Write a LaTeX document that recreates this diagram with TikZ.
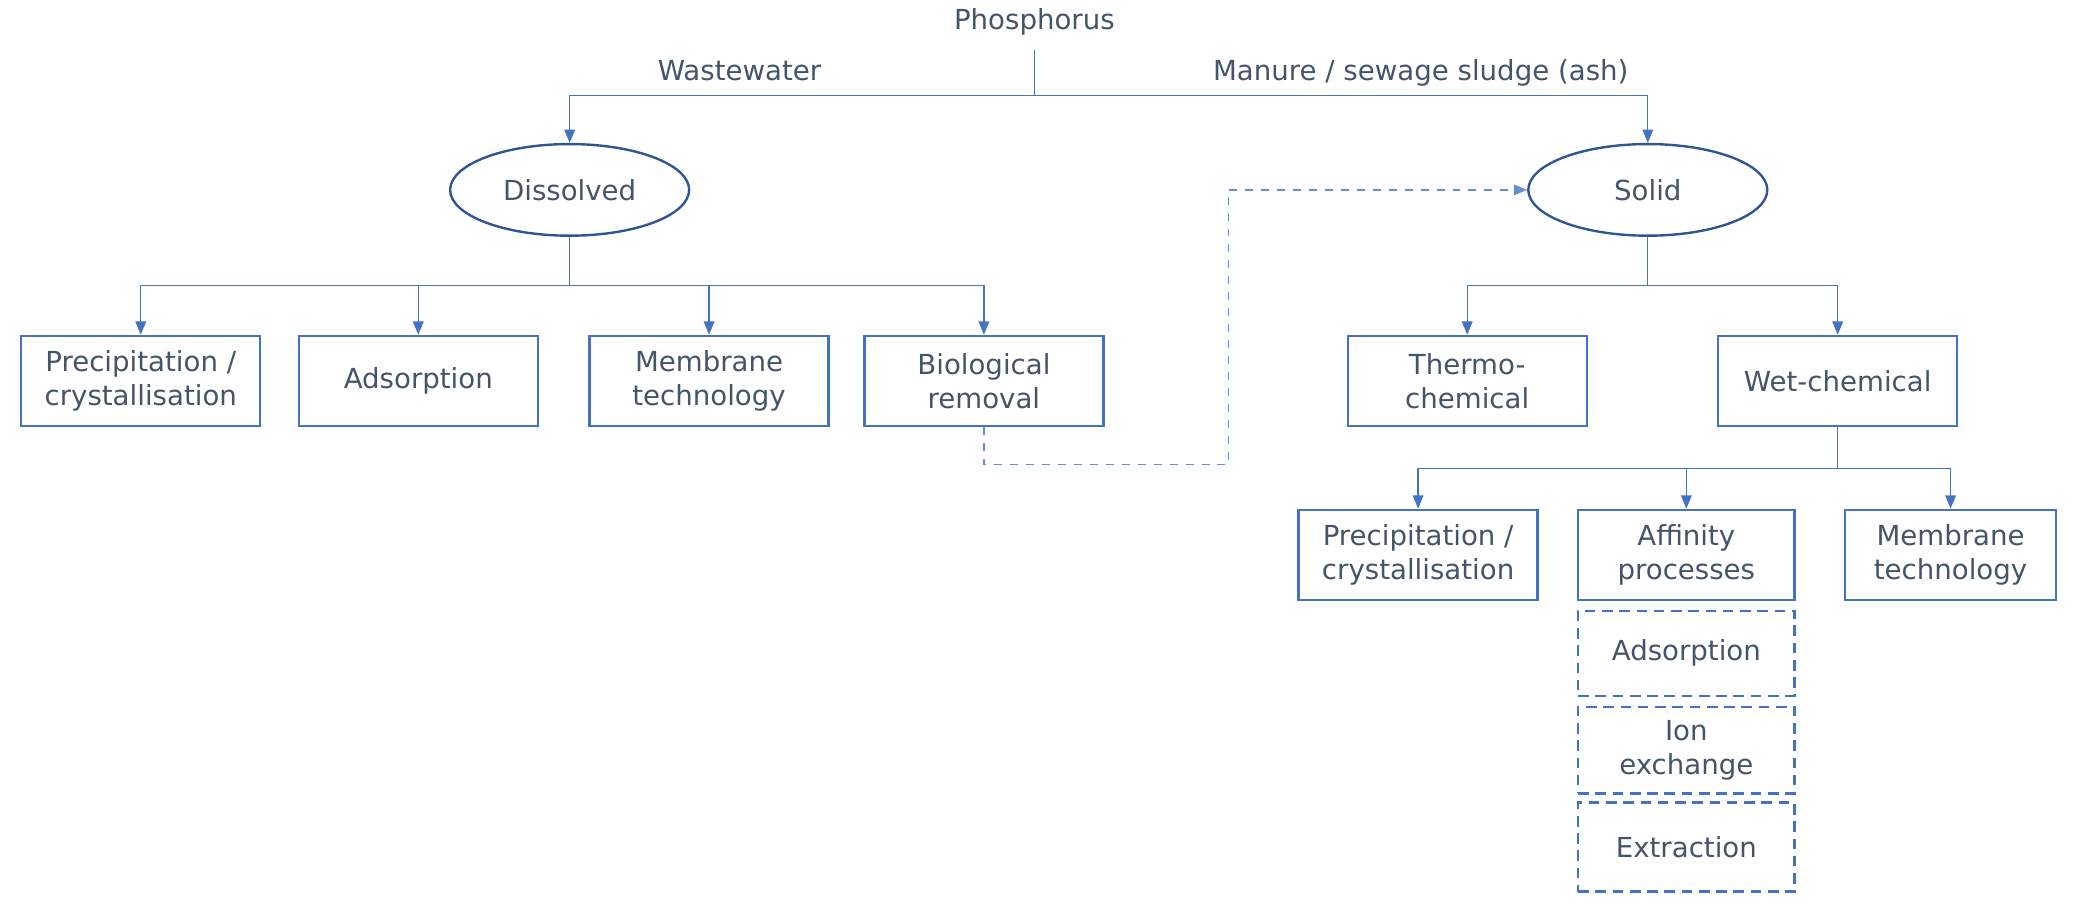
\documentclass[tikz,border=0pt]{standalone}
\usepackage{fontspec}
\setmainfont{DejaVu Sans}
\usetikzlibrary{arrows.meta,shapes.geometric}
\definecolor{txtgray}{HTML}{44546A}
\definecolor{lineblue}{HTML}{4472C4}
\definecolor{ovalblue}{HTML}{2F5597}
\tikzset{
  label/.style={text=txtgray,font=\fontsize{10.4}{12.6}\selectfont,inner sep=1pt},
  title/.style={label,text height=1.6ex,text depth=0.45ex},
  procbox/.style={label,draw=lineblue,line width=0.9pt,minimum width=90pt,minimum height=34pt,align=center},
  subbox/.style={procbox,dash pattern=on 4pt off 2.5pt},
  phase/.style={label,ellipse,draw=ovalblue,line width=0.9pt,minimum width=90pt,minimum height=34.5pt},
  conn/.style={draw=lineblue,line width=0.5pt},
  arr/.style={conn,-{Triangle[length=5pt,width=4pt]}}
}
\begin{document}
\begin{tikzpicture}[x=0.5pt,y=-0.5pt]
\useasboundingbox (0,0) rectangle (1568,680);
% source and pathways
\node (root) [title] at (779,16) {Phosphorus};
\node (ww) [title] at (557,54) {Wastewater};
\node (msl) [title] at (1070,54) {Manure / sewage sludge (ash)};
\coordinate (j0) at (779,72);
\node (dis) [phase] at (429,143) {Dissolved};
\node (sol) [phase] at (1241,143) {Solid};
\draw [conn] (root.south) ++(0,8) -- (j0);
\draw [arr] (j0) -| (dis.north);
\draw [arr] (j0) -| (sol.north);
% dissolved phosphorus
\node (prec) [procbox] at (106,287) {Precipitation /\\crystallisation};
\node (ads) [procbox] at (315,287) {Adsorption};
\node (mem) [procbox] at (534,287) {Membrane\\technology};
\node (bio) [procbox] at (741,287) {Biological\\removal};
\coordinate (j1) at (429,215);
\draw [conn] (dis.south) -- (j1);
\foreach \n in {prec,ads,mem,bio}
  \draw [arr] (j1) -| (\n.north);
\coordinate (d1) at (925,350);
\draw [arr,dashed,draw=lineblue!80] (bio.south) |- (d1) |- (sol.west);
% solid phosphorus
\node (thermo) [procbox] at (1105,287) {Thermo-\\chemical};
\node (wet) [procbox] at (1384,287) {Wet-chemical};
\coordinate (j2) at (1241,215);
\draw [conn] (sol.south) -- (j2);
\foreach \n in {thermo,wet}
  \draw [arr] (j2) -| (\n.north);
\node (prec2) [procbox] at (1068,418) {Precipitation /\\crystallisation};
\node (aff) [procbox,minimum width=81.5pt] at (1270,418) {Affinity\\processes};
\node (mem2) [procbox,minimum width=79.5pt] at (1469,418) {Membrane\\technology};
\coordinate (j3) at (1384,353);
\draw [conn] (wet.south) -- (j3);
\foreach \n in {prec2,aff,mem2}
  \draw [arr] (j3) -| (\n.north);
% affinity sub-processes
\node (ads2) [subbox,minimum width=81.5pt,minimum height=32pt] at (1270,492) {Adsorption};
\node (ion) [subbox,minimum width=81.5pt,minimum height=32.5pt] at (1270,565) {Ion\\exchange};
\node (ext) [subbox,minimum width=81.5pt,minimum height=33.5pt] at (1270,638) {Extraction};
\end{tikzpicture}
\end{document}
